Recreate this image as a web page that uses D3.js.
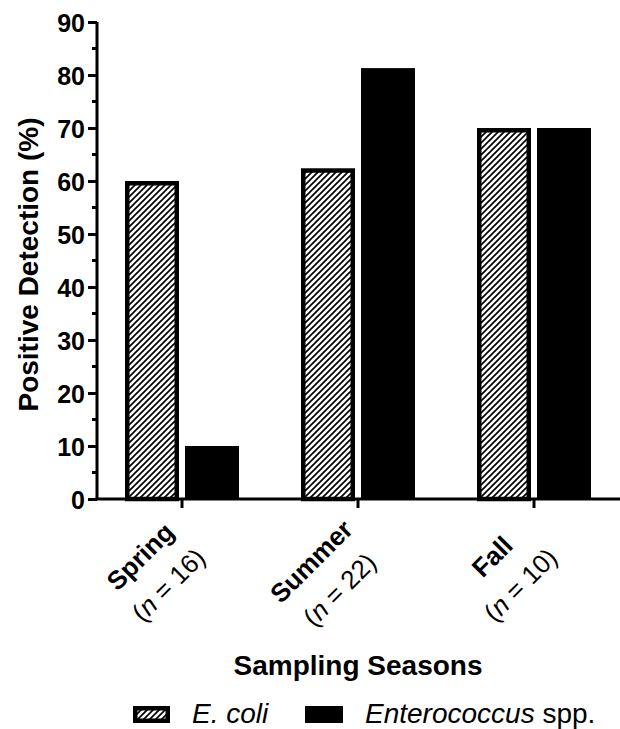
<!DOCTYPE html>
<html>
<head>
<meta charset="utf-8">
<script src="https://cdn.jsdelivr.net/npm/d3@7"></script>
<style>
    body { margin: 0; background: #fff; }
    svg { display: block; font-family: "Liberation Sans", Arial, sans-serif; }
</style>
</head>
<body>
<div id="chart"></div>
<script>
"use strict"

// Data
const seasons = ["Spring", "Summer", "Fall"]
const sampleSizes = [16, 22, 10]
const series = ["E. coli", "Enterococcus spp."]
const ecoliValues = [60, 62.4, 70]
const enteroValues = [10, 81.3, 70]
const yTicks = [0, 10, 20, 30, 40, 50, 60, 70, 80, 90]
const yMinorTicks = [5, 15, 25, 35, 45, 55, 65, 75, 85]

const size = { width: 620, height: 729 }
const plot = { left: 97, right: 622, top: 22, bottom: 499 }

const svg = d3.select("#chart")
    .append("svg")
    .attr("width", size.width)
    .attr("height", size.height)

svg.append("defs")
    .append("pattern")
    .attr("id", "hatch")
    .attr("patternUnits", "userSpaceOnUse")
    .attr("width", 6)
    .attr("height", 6)
    .call(p => p.append("rect").attr("width", 6).attr("height", 6).attr("fill", "#fff"))
    .append("path")
    .attr("d", "M-1,1 l2,-2 M0,6 l6,-6 M5,7 l2,-2")
    .attr("stroke", "#000")
    .attr("stroke-width", 1.7)

const x0 = d3.scaleBand()
    .domain(seasons)
    .range([plot.left - 3, plot.right])
const x1 = d3.scaleBand()
    .domain(series)
    .range([-57, 57])
    .paddingInner(0.1)
const y = d3.scaleLinear()
    .domain([0, 90])
    .range([plot.bottom, plot.top])

const rows = seasons.map((s, i) => ({
    season: s, n: sampleSizes[i],
    values: [
        { key: series[0], value: ecoliValues[i] },
        { key: series[1], value: enteroValues[i] }
    ]
}))

// bars
const sw = 4.5
const groups = svg.selectAll(".season")
    .data(rows)
    .enter()
    .append("g")
    .classed("season", true)
    .attr("transform", d => `translate(${x0(d.season) + x0.bandwidth() / 2},0)`)
groups.selectAll("rect")
    .data(d => d.values)
    .enter()
    .append("rect")
    .attr("x", d => d.key === series[0] ? x1(d.key) + sw / 2 : x1(d.key))
    .attr("width", d => d.key === series[0] ? x1.bandwidth() - sw : x1.bandwidth())
    .attr("y", d => d.key === series[0] ? y(d.value) + sw / 2 : y(d.value))
    .attr("height", d => d.key === series[0] ? y(0) - y(d.value) - sw / 2 : y(0) - y(d.value))
    .attr("fill", d => d.key === series[0] ? "url(#hatch)" : "#000")
    .attr("stroke", d => d.key === series[0] ? "#000" : "none")
    .attr("stroke-width", sw)

// y axis
const yAxis = svg.append("g")
    .attr("transform", `translate(${plot.left},0)`)
    .call(d3.axisLeft(y).tickValues(yTicks).tickSize(9).tickPadding(3))
yAxis.select(".domain").attr("d", `M0,${plot.top}V${plot.bottom}`)
yAxis.selectAll("line, path").attr("stroke", "#000").attr("stroke-width", 3)
yAxis.selectAll("text")
    .attr("font-size", 25)
    .attr("font-weight", "bold")
    .attr("font-family", "Liberation Sans, Arial, sans-serif")
    .attr("fill", "#000")
    .attr("dy", "0.36em")
yAxis.selectAll(".minor")
    .data(yMinorTicks)
    .enter()
    .append("line")
    .attr("x1", -5).attr("x2", 0)
    .attr("y1", d => y(d)).attr("y2", d => y(d))
    .attr("stroke", "#000")
    .attr("stroke-width", 3)

// x axis
svg.append("line")
    .attr("x1", plot.left - 1.5).attr("x2", size.width)
    .attr("y1", plot.bottom).attr("y2", plot.bottom)
    .attr("stroke", "#000")
    .attr("stroke-width", 3)
svg.selectAll(".xtick")
    .data(seasons)
    .enter()
    .append("line")
    .attr("x1", d => x0(d) + x0.bandwidth() / 2)
    .attr("x2", d => x0(d) + x0.bandwidth() / 2)
    .attr("y1", plot.bottom).attr("y2", plot.bottom + 9)
    .attr("stroke", "#000")
    .attr("stroke-width", 3)

// rotated category labels, block placed by its top-right corner
const labels = svg.selectAll(".xlabel")
    .data(rows)
    .enter()
    .append("g")
    .classed("xlabel", true)
const inner = labels.append("g").attr("transform", "rotate(-45)")
inner.append("text")
    .attr("text-anchor", "middle")
    .attr("font-size", 26)
    .attr("font-weight", "bold")
    .text(d => d.season)
const line2 = inner.append("text")
    .attr("text-anchor", "middle")
    .attr("font-size", 26)
    .attr("y", 40)
line2.append("tspan").text("(")
line2.append("tspan").attr("font-style", "italic").text("n")
line2.append("tspan").text(d => ` = ${d.n})`)
labels.each(function (d) {
    const box = this.getBoundingClientRect()
    const cx = x0(d.season) + x0.bandwidth() / 2
    d3.select(this).attr("transform", `translate(${cx + 29 - box.right},${514 - box.top})`)
})

// axis titles
svg.append("text")
    .attr("transform", `translate(38,${(plot.top + plot.bottom) / 2 + 4}) rotate(-90)`)
    .attr("text-anchor", "middle")
    .attr("font-size", 28)
    .attr("font-weight", "bold")
    .text("Positive Detection (%)")
svg.append("text")
    .attr("x", x0(seasons[1]) + x0.bandwidth() / 2)
    .attr("y", 675)
    .attr("text-anchor", "middle")
    .attr("font-size", 28)
    .attr("font-weight", "bold")
    .text("Sampling Seasons")

// legend
const legendItems = [
    { key: series[0], x: 133, italic: "E. coli", rest: "" },
    { key: series[1], x: 305, italic: "Enterococcus", rest: " spp." }
]
const legend = svg.selectAll(".legend")
    .data(legendItems)
    .enter()
    .append("g")
    .classed("legend", true)
    .attr("transform", d => `translate(${d.x},706)`)
legend.append("rect")
    .attr("x", d => d.key === series[0] ? sw / 2 : 0)
    .attr("y", d => d.key === series[0] ? sw / 2 : 0)
    .attr("width", d => d.key === series[0] ? 37 - sw : 38)
    .attr("height", d => d.key === series[0] ? 17 - sw : 17)
    .attr("fill", d => d.key === series[0] ? "url(#hatch)" : "#000")
    .attr("stroke", d => d.key === series[0] ? "#000" : "none")
    .attr("stroke-width", sw)
const legendText = legend.append("text")
    .attr("x", d => d.key === series[0] ? 59 : 60)
    .attr("y", 17)
    .attr("font-size", 28)
legendText.append("tspan").attr("font-style", "italic").text(d => d.italic)
legendText.append("tspan").text(d => d.rest)
</script>
</body>
</html>
